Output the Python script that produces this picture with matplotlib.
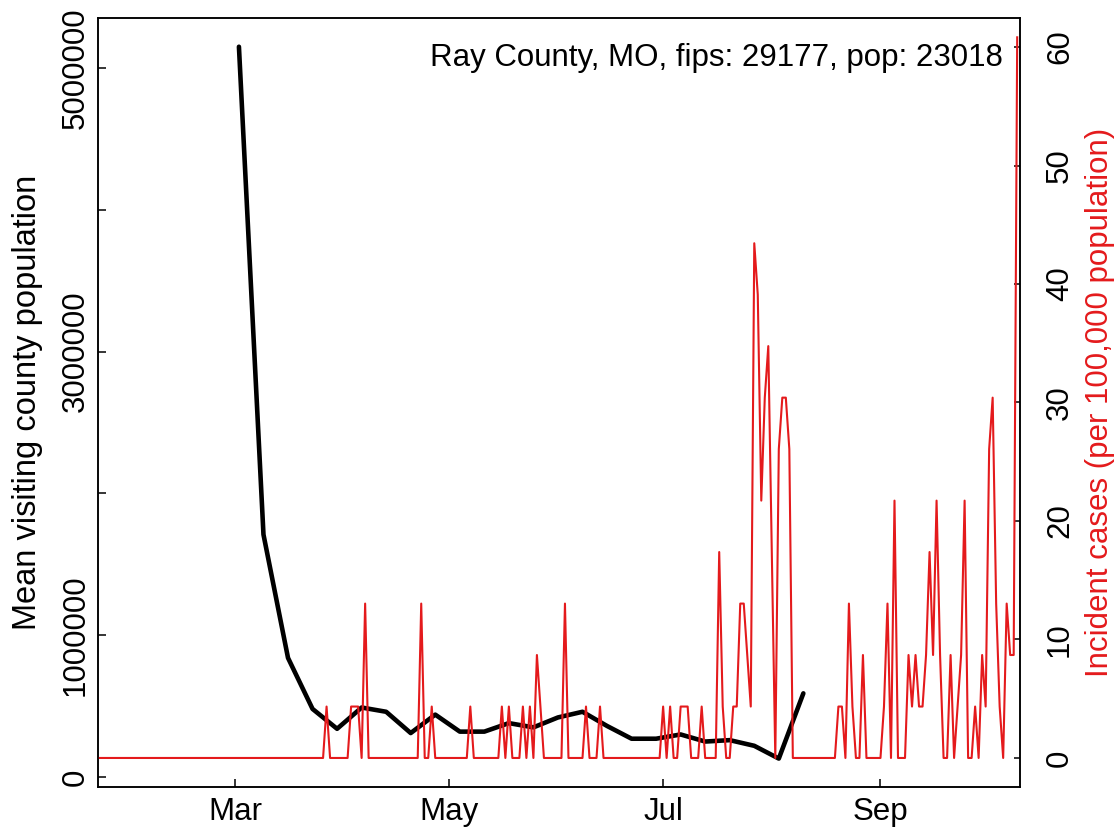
import numpy as np
import pandas as pd
import matplotlib
matplotlib.use("Agg")
import matplotlib.pyplot as plt
import matplotlib.dates as mdates

plt.rcParams['font.family'] = ['Liberation Sans', 'DejaVu Sans']

RED = '#E41A1C'
TITLE = "Ray County, MO, fips: 29177, pop: 23018"

# weekly mean visiting county population (black line)
visit_dates = pd.date_range("2020-03-02", periods=24, freq="7D")
visit_pop = [5150000, 1710000, 840000, 480000, 340000, 490000, 460000, 310000,
             440000, 320000, 320000, 380000, 350000, 420000, 460000, 360000,
             270000, 270000, 300000, 250000, 260000, 220000, 130000, 590000]

# daily incident cases per 100k -- only the non-zero days, every other day is 0
case_start, case_end = "2020-01-22", "2020-10-10"
case_days = ["2020-03-27", "2020-04-03", "2020-04-04", "2020-04-05", "2020-04-07",
             "2020-04-23", "2020-04-26", "2020-05-07", "2020-05-16", "2020-05-18",
             "2020-05-22", "2020-05-24", "2020-05-26", "2020-05-27", "2020-06-03",
             "2020-06-09", "2020-06-13", "2020-07-01", "2020-07-03", "2020-07-06",
             "2020-07-07", "2020-07-08", "2020-07-12", "2020-07-17", "2020-07-18",
             "2020-07-21", "2020-07-22", "2020-07-23", "2020-07-24", "2020-07-25",
             "2020-07-26", "2020-07-27", "2020-07-28", "2020-07-29", "2020-07-30",
             "2020-07-31", "2020-08-01", "2020-08-03", "2020-08-04", "2020-08-05",
             "2020-08-06", "2020-08-20", "2020-08-21", "2020-08-23", "2020-08-24",
             "2020-08-27", "2020-09-02", "2020-09-03", "2020-09-05", "2020-09-09",
             "2020-09-10", "2020-09-11", "2020-09-12", "2020-09-13", "2020-09-14",
             "2020-09-15", "2020-09-16", "2020-09-17", "2020-09-18", "2020-09-21",
             "2020-09-23", "2020-09-24", "2020-09-25", "2020-09-28", "2020-09-30",
             "2020-10-01", "2020-10-02", "2020-10-03", "2020-10-04", "2020-10-05",
             "2020-10-07", "2020-10-08", "2020-10-09", "2020-10-10"]
case_rate = [4.34, 4.34, 4.34, 4.34, 13.03,
             13.03, 4.34, 4.34, 4.34, 4.34,
             4.34, 4.34, 8.69, 4.34, 13.03,
             4.34, 4.34, 4.34, 4.34, 4.34,
             4.34, 4.34, 4.34, 17.38, 4.34,
             4.34, 4.34, 13.03, 13.03, 8.69,
             4.34, 43.44, 39.10, 21.72, 30.41,
             34.76, 17.38, 26.07, 30.41, 30.41,
             26.07, 4.34, 4.34, 13.03, 4.34,
             8.69, 4.34, 13.03, 21.72, 8.69,
             4.34, 8.69, 4.34, 4.34, 8.69,
             17.38, 8.69, 21.72, 8.69, 8.69,
             4.34, 8.69, 21.72, 4.34, 8.69,
             4.34, 26.07, 30.41, 13.03, 4.34,
             13.03, 8.69, 8.69, 60.82]

x_ticks = ["2020-03-01", "2020-05-01", "2020-07-01", "2020-09-01"]
left_ticks = [0, 1000000, 2000000, 3000000, 4000000, 5000000]
left_labels = ["0", "1000000", "", "3000000", "", "5000000"]
right_ticks = [0, 10, 20, 30, 40, 50, 60]

days = pd.date_range(case_start, case_end, freq="D")
rate = pd.Series(0.0, index=days)
rate[pd.to_datetime(case_days)] = case_rate

fig = plt.figure(figsize=(11.19, 8.30), dpi=100)
ax = fig.add_axes([98 / 1119, 1 - 787 / 830, 922 / 1119, 769 / 830])
ax2 = ax.twinx()

ax.plot(visit_dates, visit_pop, color='black', lw=3.3,
        solid_joinstyle='round', solid_capstyle='round', zorder=3)
ax2.plot(rate.index, rate.values, color=RED, lw=1.5)

mar1 = mdates.date2num(pd.Timestamp("2020-03-01"))
ax.set_xlim(mar1 - 39.2, mar1 + 223.8)
ax.set_ylim(-70500, 5352600)
ax2.set_ylim(-2.45, 62.45)

ax.set_xticks(pd.to_datetime(x_ticks))
ax.xaxis.set_major_formatter(mdates.DateFormatter('%b'))
ax.set_yticks(left_ticks)
ax.set_yticklabels(left_labels)
ax2.set_yticks(right_ticks)

fs = 22.5
ax.tick_params(axis='x', direction='in', length=6, width=1.1, labelsize=fs, pad=7)
ax.tick_params(axis='y', direction='in', length=6, width=1.1, labelsize=fs, pad=5,
               labelrotation=90)
ax2.tick_params(axis='y', direction='in', length=4.5, width=1.1, labelsize=fs, pad=18,
                labelrotation=90)
for lab in ax.get_yticklabels():
    lab.set_va('center')
for lab in ax2.get_yticklabels():
    lab.set_va('center')

for sp in list(ax.spines.values()) + list(ax2.spines.values()):
    sp.set_linewidth(1.1)

ax.set_ylabel("Mean visiting county population", fontsize=23.5, va='center')
ax.yaxis.set_label_coords(-0.076, 0.5)
ax2.set_ylabel("Incident cases (per 100,000 population)", fontsize=fs, color=RED,
               va='center', rotation=90)
ax2.yaxis.set_label_coords(1.087, 0.5)

ax.text(0.9816, 0.948, TITLE, transform=ax.transAxes, ha='right', va='center',
        fontsize=fs)

fig.savefig("out.png", dpi=100)
